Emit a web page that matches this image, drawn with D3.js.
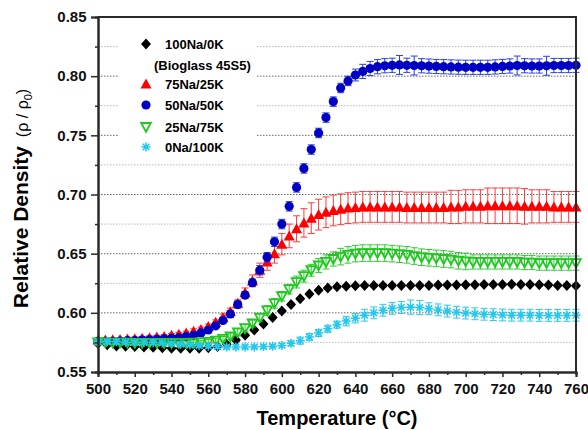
<!DOCTYPE html>
<html><head><meta charset="utf-8">
<script src="https://cdn.jsdelivr.net/npm/d3@7"></script>
<style>
html,body{margin:0;padding:0;background:#fff;}
svg text{font-family:Arial,"Liberation Sans",sans-serif;}
</style></head>
<body>
<svg id="chart" width="588" height="430"></svg>
<script>
// ---------- DATA ----------
const temps4 = [500,504,508,512,516,520,524,528,532,536,540,544,548,552,556,560,564,568,572,576,580,584,588,592,596,600,604,608,612,616,620,624,628,632,636,640,644,648,652,656,660,664,668,672,676,680,684,688,692,696,700,704,708,712,716,720,724,728,732,736,740,744,748,752,756,760];
const temps5 = [500,505,510,515,520,525,530,535,540,545,550,555,560,565,570,575,580,585,590,595,600,605,610,615,620,625,630,635,640,645,650,655,660,665,670,675,680,685,690,695,700,705,710,715,720,725,730,735,740,745,750,755,760];

const na100 = [.5740,.5730,.5720,.5718,.5715,.5712,.5710,.5705,.5700,.5700,.5700,.5700,.5705,.5715,.5735,.5770,.5810,.5855,.5905,.5960,.6015,.6070,.6120,.6160,.6190,.6210,.6220,.6225,.6228,.6230,.6230,.6230,.6230,.6230,.6232,.6232,.6232,.6235,.6235,.6235,.6238,.6238,.6240,.6240,.6240,.6242,.6240,.6240,.6238,.6235,.6232,.6230,.6228];
const na100Err = [.001,.001,.001,.001,.001,.001,.001,.001,.001,.001,.001,.001,.001,.001,.001,.001,.001,.001,.001,.001,.001,.001,.001,.001,.001,.001,.001,.001,.001,.001,.001,.001,.001,.001,.001,.001,.001,.001,.001,.001,.001,.001,.001,.001,.001,.001,.001,.001,.001,.001,.001,.001,.001];

const na75 = [.5770,.5770,.5772,.5775,.5778,.5780,.5785,.5790,.5795,.5800,.5810,.5820,.5830,.5845,.5860,.5885,.5920,.5960,.6010,.6080,.6170,.6270,.6360,.6430,.6500,.6580,.6650,.6710,.6760,.6800,.6830,.6850,.6865,.6875,.6885,.6890,.6895,.6895,.6895,.6895,.6895,.6895,.6890,.6890,.6890,.6890,.6890,.6890,.6895,.6895,.6900,.6900,.6900,.6905,.6905,.6905,.6905,.6905,.6900,.6900,.6900,.6900,.6895,.6895,.6895,.6895];
const na75Err = [.0015,.0015,.0015,.0015,.0015,.0015,.0015,.0015,.0015,.0015,.0015,.0015,.0015,.002,.002,.002,.002,.003,.003,.003,.004,.005,.006,.007,.008,.009,.010,.011,.012,.013,.013,.013,.013,.013,.013,.013,.013,.013,.013,.013,.013,.013,.013,.013,.013,.013,.013,.013,.014,.014,.014,.014,.014,.015,.015,.015,.015,.015,.015,.014,.014,.014,.013,.013,.013,.013];

const na50 = [.5760,.5760,.5760,.5762,.5765,.5765,.5770,.5772,.5775,.5780,.5785,.5790,.5800,.5810,.5830,.5855,.5890,.5935,.5990,.6070,.6150,.6255,.6360,.6470,.6600,.6750,.6900,.7060,.7220,.7380,.7520,.7650,.7785,.7900,.7960,.8010,.8040,.8065,.8080,.8088,.8092,.8095,.8092,.8090,.8088,.8085,.8082,.8080,.8078,.8076,.8075,.8075,.8075,.8075,.8078,.8082,.8086,.8090,.8088,.8086,.8086,.8088,.8090,.8090,.8090,.8092];
const na50Err = [.0015,.0015,.0015,.0015,.0015,.0015,.0015,.0015,.0015,.0015,.0015,.0015,.0015,.0015,.0015,.002,.002,.002,.003,.003,.003,.003,.004,.004,.004,.004,.004,.004,.004,.004,.004,.004,.004,.004,.004,.005,.006,.006,.006,.006,.006,.008,.006,.008,.006,.006,.006,.006,.006,.006,.006,.006,.006,.006,.006,.006,.006,.008,.006,.006,.006,.008,.006,.006,.006,.006];

const na25 = [.5750,.5750,.5748,.5748,.5748,.5745,.5745,.5745,.5745,.5745,.5745,.5745,.5745,.5748,.5750,.5755,.5765,.5780,.5800,.5835,.5870,.5910,.5960,.6020,.6080,.6140,.6200,.6260,.6310,.6360,.6400,.6430,.6455,.6475,.6490,.6500,.6505,.6505,.6505,.6505,.6500,.6495,.6490,.6480,.6470,.6465,.6460,.6455,.6450,.6440,.6435,.6430,.6430,.6430,.6430,.6430,.6430,.6430,.6425,.6425,.6420,.6420,.6420,.6420,.6420,.6420];
const na25Err = [.0015,.0015,.0015,.0015,.0015,.0015,.0015,.0015,.0015,.0015,.0015,.0015,.0015,.0015,.0015,.002,.002,.002,.003,.003,.003,.003,.003,.004,.004,.004,.004,.005,.005,.005,.006,.006,.006,.007,.007,.007,.007,.007,.007,.007,.007,.007,.007,.007,.007,.007,.007,.007,.007,.007,.007,.006,.006,.006,.006,.006,.006,.006,.006,.006,.006,.006,.006,.006,.006,.006];

const na0 = [.5755,.5755,.5755,.5752,.5750,.5750,.5748,.5745,.5740,.5735,.5728,.5722,.5718,.5715,.5712,.5712,.5712,.5712,.5715,.5718,.5725,.5742,.5765,.5795,.5830,.5865,.5900,.5930,.5955,.5980,.6000,.6022,.6038,.6045,.6048,.6045,.6035,.6025,.6015,.6005,.5998,.5992,.5988,.5985,.5982,.5980,.5980,.5980,.5978,.5978,.5978,.5978,.5980];
const na0Err = [.0015,.0015,.0015,.0015,.0015,.0015,.0015,.0015,.0015,.0015,.0015,.0015,.0015,.0015,.0015,.0015,.0015,.0015,.0015,.0015,.0015,.002,.003,.003,.003,.003,.003,.004,.004,.005,.005,.005,.005,.005,.006,.006,.005,.005,.005,.005,.005,.005,.005,.005,.005,.005,.005,.005,.005,.005,.005,.005,.005];

const legendLabels = ["100Na/0K","75Na/25K","50Na/50K","25Na/75K","0Na/100K"];
const xTicks = [500,520,540,560,580,600,620,640,660,680,700,720,740,760];
const xMinor = [510,530,550,570,590,610,630,650,670,690,710,730,750];
const yTicks = [0.55,0.60,0.65,0.70,0.75,0.80,0.85];
const yMinor = [0.575,0.625,0.675,0.725,0.775,0.825];

// ---------- CHART ----------
const svg = d3.select("#chart");
const L = 98, R = 576, T = 17, B = 372;
const x = d3.scaleLinear().domain([500,760]).range([L,R]);
const y = d3.scaleLinear().domain([0.55,0.85]).range([B,T]);

// gridlines
const grid = svg.append("g");
grid.selectAll("line.minor").data(yMinor).join("line")
  .attr("x1",L).attr("x2",R).attr("y1",d=>y(d)).attr("y2",d=>y(d))
  .attr("stroke","#b8b8b8").attr("stroke-width",1).attr("stroke-dasharray","1.5,1.5");
grid.selectAll("line.major").data(yTicks.filter(d=>d>0.55&&d<0.85)).join("line")
  .attr("x1",L).attr("x2",R).attr("y1",d=>y(d)).attr("y2",d=>y(d))
  .attr("stroke","#666").attr("stroke-width",1).attr("stroke-dasharray","1.5,1.5");

const series = [
  {name:legendLabels[0], t:temps5, v:na100, e:na100Err, color:"#000000", ecolor:"#000000", shape:"diamond"},
  {name:legendLabels[1], t:temps4, v:na75, e:na75Err, color:"#ff0000", ecolor:"#ff3b3b", shape:"triUp"},
  {name:legendLabels[2], t:temps4, v:na50, e:na50Err, color:"#0000c4", ecolor:"#2a3fd8", shape:"circle"},
  {name:legendLabels[3], t:temps4, v:na25, e:na25Err, color:"#1ec81e", ecolor:"#2ccc2c", shape:"triDown"},
  {name:legendLabels[4], t:temps5, v:na0, e:na0Err, color:"#22c8ee", ecolor:"#2cc8ee", shape:"star"}
];

function drawMarker(g, shape, color){
  if(shape==="diamond") g.append("path").attr("d","M0,-5.5L5,0L0,5.5L-5,0Z").attr("fill",color);
  else if(shape==="triUp") g.append("path").attr("d","M0,-5.5L5.5,4.5L-5.5,4.5Z").attr("fill",color);
  else if(shape==="circle") g.append("circle").attr("r",4.6).attr("fill",color);
  else if(shape==="triDown") g.append("path").attr("d","M-4.8,-4L4.8,-4L0,4.8Z").attr("fill","none").attr("stroke",color).attr("stroke-width",1.8);
  else if(shape==="star") g.append("path").attr("d","M-4.5,0H4.5M0,-4.5V4.5M-3.3,-3.3L3.3,3.3M-3.3,3.3L3.3,-3.3").attr("fill","none").attr("stroke",color).attr("stroke-width",1.5);
}

series.forEach(s=>{
  const pts = s.t.map((t,i)=>({t:t, v:s.v[i], e:s.e[i]}));
  const g = svg.append("g");
  const eb = g.append("g").attr("stroke",s.ecolor).attr("stroke-width",1).attr("fill","none");
  pts.forEach(p=>{
    const px = x(p.t), y1 = y(p.v - p.e), y2 = y(p.v + p.e);
    eb.append("path").attr("d",`M${px},${y1}V${y2}M${px-3.5},${y1}H${px+3.5}M${px-3.5},${y2}H${px+3.5}`);
  });
  const mk = g.append("g");
  pts.forEach(p=>{
    const m = mk.append("g").attr("transform",`translate(${x(p.t)},${y(p.v)})`);
    drawMarker(m, s.shape, s.color);
  });
});

// legend
const lg = svg.append("g");
lg.append("rect").attr("x",118).attr("y",27).attr("width",138).attr("height",131).attr("fill","#fff");
const rowsY = [44,84,105,127,147];
series.forEach((s,i)=>{
  const m = lg.append("g").attr("transform",`translate(146,${rowsY[i]})`);
  drawMarker(m, s.shape, s.color);
  lg.append("text").attr("x",165).attr("y",rowsY[i]+4.5).attr("font-size",13).attr("font-weight","bold").text(s.name);
});
lg.append("text").attr("x",154).attr("y",65+4.5).attr("font-size",13).attr("font-weight","bold").text("(Bioglass 45S5)");

// axes
const xAxis = svg.append("g").attr("transform",`translate(0,${B})`)
  .call(d3.axisBottom(x).tickValues(xTicks).tickSize(5).tickFormat(d3.format("d")));
const xAxisMinor = svg.append("g").attr("transform",`translate(0,${B})`)
  .call(d3.axisBottom(x).tickValues(xMinor).tickSize(3).tickFormat(""));
const yAxis = svg.append("g").attr("transform",`translate(${L},0)`)
  .call(d3.axisLeft(y).tickValues(yTicks).tickSize(7).tickFormat(d3.format(".2f")));
const yAxisMinor = svg.append("g").attr("transform",`translate(${L},0)`)
  .call(d3.axisLeft(y).tickValues(yMinor).tickSize(3).tickFormat(""));
[xAxis,xAxisMinor,yAxis,yAxisMinor].forEach(a=>{
  a.select(".domain").attr("stroke","#2a2a2a").attr("stroke-width",2);
  a.selectAll(".tick line").attr("stroke","#2a2a2a").attr("stroke-width",1.5);
  a.selectAll("text").attr("font-size",15).attr("font-weight","bold").attr("fill","#111")
   .attr("font-family",'Arial,"Liberation Sans",sans-serif');
});
xAxis.selectAll("text").attr("dy","0.95em");
yAxis.selectAll("text").attr("dx","-0.1em");

// frame top & right
svg.append("path").attr("d",`M${L},${T}H${R}V${B}`).attr("fill","none").attr("stroke","#2a2a2a").attr("stroke-width",2);

// titles
svg.append("text").attr("x",(L+R)/2).attr("y",425).attr("text-anchor","middle")
  .attr("font-size",20).attr("font-weight","bold").text("Temperature (°C)");

const yt = svg.append("text").attr("transform",`translate(28,${(T+B)/2+4}) rotate(-90)`).attr("text-anchor","middle");
yt.append("tspan").attr("font-size",21).attr("font-weight","bold").text("Relative Density ");
yt.append("tspan").attr("font-size",16).attr("dx",3).text("(ρ / ρ");
yt.append("tspan").attr("font-size",11).attr("dy",4).text("0");
yt.append("tspan").attr("font-size",16).attr("dy",-4).text(")");
</script>
</body></html>
